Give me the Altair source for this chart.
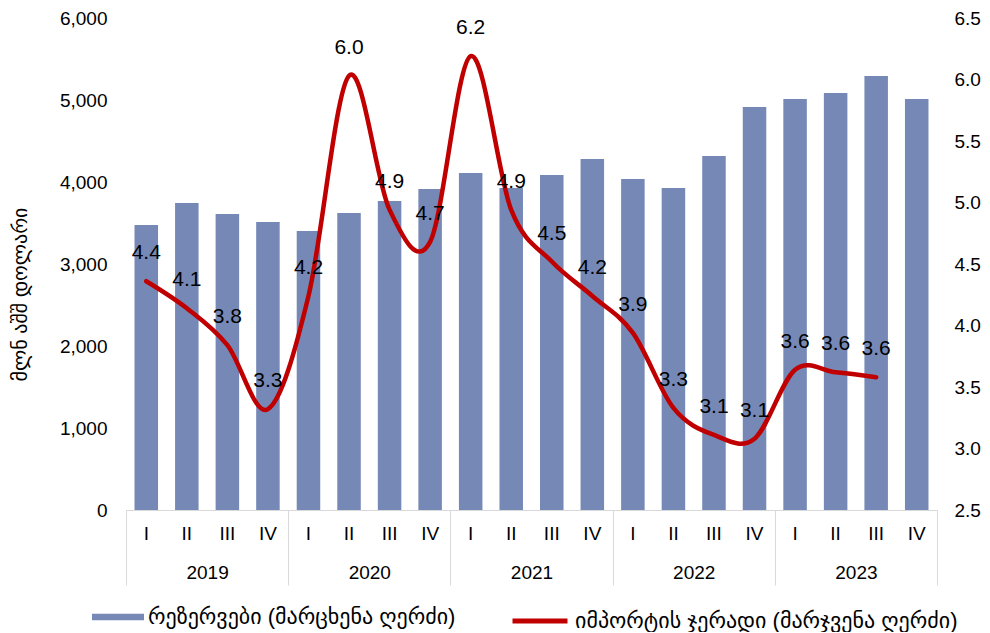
import altair as alt
import pandas as pd

years = ["2019", "2020", "2021", "2022", "2023"]
quarters = ["I", "II", "III", "IV"]
reserves = [3476, 3744, 3610, 3512, 3402, 3622, 3768, 3915, 4110, 3927,
            4085, 4280, 4037, 3927, 4317, 4915, 5012, 5085, 5293, 5012]
import_cover = [4.36, 4.14, 3.84, 3.32, 4.24, 6.03, 4.94, 4.68, 6.19, 4.94,
                4.52, 4.24, 3.94, 3.33, 3.11, 3.08, 3.64, 3.62, 3.58]
left_ticks = [0, 1000, 2000, 3000, 4000, 5000, 6000]
right_ticks = [2.5, 3.0, 3.5, 4.0, 4.5, 5.0, 5.5, 6.0, 6.5]
bar_label = "რეზერვები (მარცხენა ღერძი)"
line_label = "იმპორტის ჯერადი (მარჯვენა ღერძი)"
y_title = "მლნ აშშ დოლარი"

FONT = "Liberation Sans, Arial, DejaVu Sans, sans-serif"
BAR_COLOR = "#7689b6"
LINE_COLOR = "#c00000"
GRID = "#d9d9d9"

keys = [f"{y}-{q}" for y in years for q in quarters]
bars_df = pd.DataFrame({"key": keys, "reserves": reserves, "series": bar_label})
line_df = pd.DataFrame({"key": keys[:len(import_cover)], "ratio": import_cover,
                        "series": line_label})
nq = len(quarters)
year_df = pd.DataFrame({"pos": [i * nq + nq / 2 for i in range(len(years))],
                        "year": years})

x_q = alt.X("key:N", sort=keys,
            scale=alt.Scale(domain=keys, paddingInner=0.42, paddingOuter=0.21),
            axis=alt.Axis(title=None, labelExpr="split(datum.value,'-')[1]",
                          ticks=False, domain=True, domainColor=GRID, domainWidth=1,
                          labelAngle=0, labelFontSize=19, labelPadding=23,
                          labelBaseline="middle", labelColor="#000", grid=False))

bars = alt.Chart(bars_df).mark_bar(color=BAR_COLOR).encode(
    x=x_q,
    y=alt.Y("reserves:Q",
            scale=alt.Scale(domain=[0, 6000], nice=False),
            axis=alt.Axis(values=left_ticks, format=",.0f", grid=False, ticks=False,
                          domain=False, labelFontSize=19, labelPadding=19,
                          labelColor="#000", title=y_title, titleFontSize=20,
                          titleFontWeight="normal", titleColor="#000",
                          titleAngle=270, titleX=-106, titleY=276,
                          titleAlign="center", titleBaseline="middle")),
    fill=alt.Fill("series:N",
                  scale=alt.Scale(domain=[bar_label], range=[BAR_COLOR]),
                  legend=alt.Legend(orient="none", legendX=-34, legendY=573,
                                    title=None, symbolType="M-1,-0.125H1V0.125H-1Z",
                                    symbolSize=2704, symbolStrokeWidth=0,
                                    symbolOpacity=1,
                                    labelFontSize=22, labelOffset=4,
                                    labelColor="#000", labelLimit=600)),
)

y_r = alt.Y("ratio:Q", scale=alt.Scale(domain=[2.5, 6.5], nice=False, zero=False),
            axis=alt.Axis(orient="right", values=right_ticks, format=".1f",
                          grid=False, ticks=False, domain=False, labelFontSize=19,
                          labelPadding=17, labelColor="#000", title=None))

line = alt.Chart(line_df).mark_line(interpolate="cardinal", strokeWidth=4.5,
                                    strokeCap="round").encode(
    x=x_q,
    y=y_r,
    stroke=alt.Stroke("series:N",
                      scale=alt.Scale(domain=[line_label], range=[LINE_COLOR]),
                      legend=alt.Legend(orient="none", legendX=384, legendY=573,
                                        title=None, symbolType="stroke",
                                        symbolSize=3025, symbolStrokeWidth=5,
                                        labelFontSize=22, labelOffset=5,
                                        labelColor="#000", labelLimit=600)),
)

labels = alt.Chart(line_df).mark_text(dy=-28, fontSize=21, color="#000",
                                      baseline="middle", align="center").encode(
    x=x_q,
    y=y_r,
    text=alt.Text("ratio:Q", format=".1f"),
)

right_grp = alt.layer(line, labels)
main = alt.layer(bars, right_grp).resolve_scale(y="independent")

year_values = [i * nq / 2 for i in range(2 * len(years) + 1)]
year_js = "[" + ",".join("'" + y + "'" for y in years) + "]"
years_layer = alt.Chart(year_df).mark_point(opacity=0).encode(
    x=alt.X("pos:Q", scale=alt.Scale(domain=[0, nq * len(years)], nice=False, zero=False),
            axis=alt.Axis(orient="bottom", values=year_values, title=None,
                          tickSize=75, tickColor=GRID, tickWidth=1,
                          tickOpacity={"condition": {"test": f"datum.value % {nq} == 0",
                                                     "value": 1}, "value": 0},
                          labelExpr=f"datum.value % {nq} == {nq // 2} ? {year_js}[floor(datum.value / {nq})] : ''",
                          domain=False, grid=False, labelPadding=-13,
                          labelBaseline="middle", labelFontSize=19, labelColor="#000",
                          labelOverlap=False, labelFlush=False, labelAngle=0)),
)

chart = alt.layer(main, years_layer).resolve_scale(
    x="independent", fill="independent", stroke="independent"
).properties(
    width=811, height=492,
    autosize=alt.AutoSizeParams(type="none"),
    padding={"left": 118, "top": 10, "right": 45, "bottom": 122},
).configure(font=FONT).configure_view(stroke=None)

chart.save("out.html", embed_options={"renderer": "svg", "actions": False})
